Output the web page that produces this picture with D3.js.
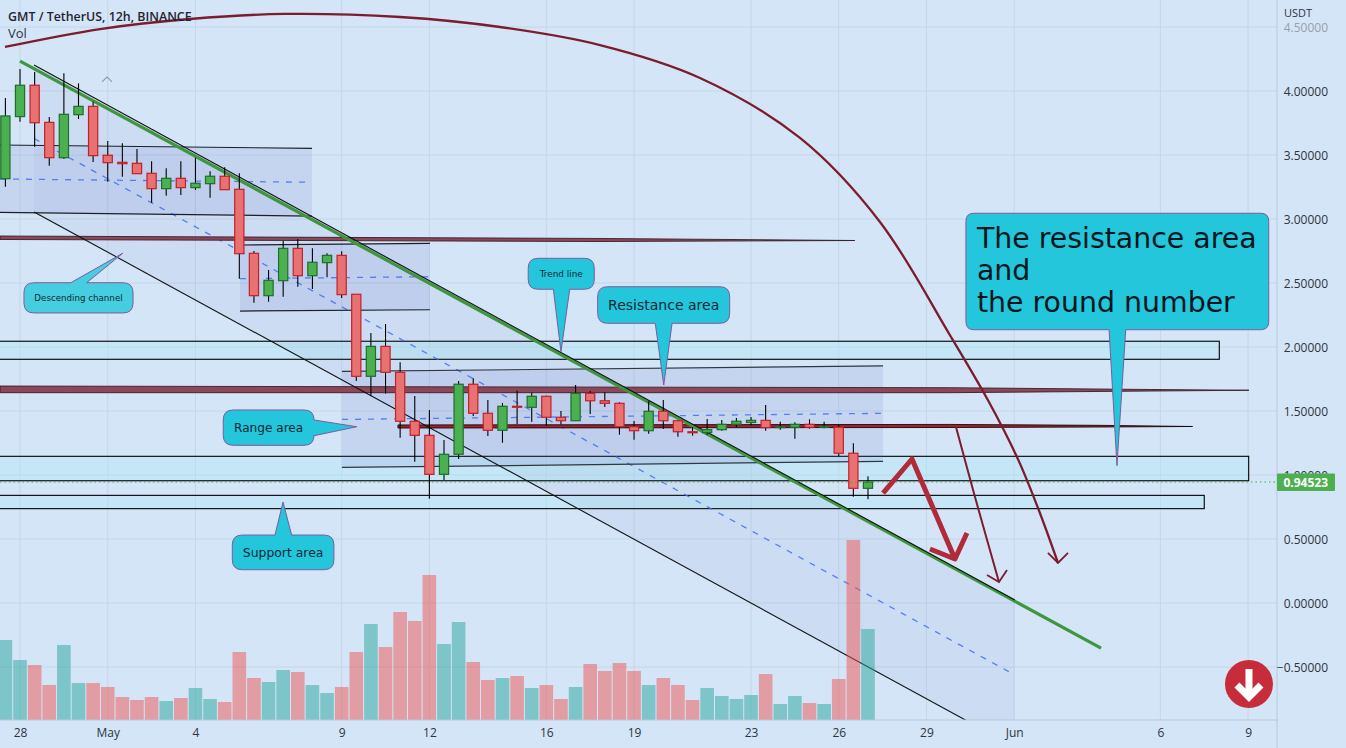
<!DOCTYPE html>
<html><head><meta charset="utf-8">
<style>html,body{margin:0;padding:0;background:#d4e5f7;overflow:hidden}svg{display:block}
text{font-family:"Open Sans",sans-serif}</style>
<script src="https://cdnjs.cloudflare.com/ajax/libs/d3/7.8.5/d3.min.js"></script></head><body>
<script>
// ---------- market data ----------
const open =[3.315,3.80,4.045,3.755,3.479,3.815,3.880,3.498,3.443,3.435,3.357,3.237,3.318,3.245,3.276,3.334,3.232,2.732,2.401,2.518,2.771,2.557,2.659,2.716,2.412,1.771,2.005,1.802,1.420,1.310,1.005,1.162,1.709,1.482,1.349,1.537,1.529,1.615,1.451,1.424,1.638,1.580,1.560,1.377,1.346,1.498,1.424,1.338,1.332,1.354,1.396,1.41,1.427,1.370,1.373,1.396,1.373,1.373,1.170,0.896];
const high =[3.945,4.172,4.148,3.797,4.138,4.060,3.916,3.609,3.591,3.547,3.451,3.396,3.451,3.479,3.373,3.404,3.357,2.750,2.602,2.828,2.844,2.771,2.732,2.748,2.412,2.109,2.180,1.880,1.617,1.508,1.273,1.734,1.755,1.586,1.563,1.659,1.643,1.620,1.500,1.703,1.656,1.646,1.568,1.422,1.576,1.586,1.430,1.375,1.4375,1.430,1.445,1.453,1.547,1.416,1.412,1.435,1.416,1.391,1.248,0.990];
const low  =[3.252,3.76,3.565,3.416,3.469,3.781,3.445,3.291,3.330,3.354,3.127,3.182,3.188,3.227,3.166,3.229,2.534,2.346,2.354,2.393,2.471,2.453,2.545,2.383,1.734,1.617,1.635,1.291,1.104,0.815,0.961,1.125,1.461,1.305,1.252,1.396,1.416,1.385,1.396,1.424,1.477,1.531,1.315,1.276,1.323,1.359,1.299,1.307,1.315,1.346,1.373,1.388,1.346,1.354,1.284,1.362,1.365,1.148,0.830,0.810];
const close=[3.805,4.045,3.752,3.479,3.818,3.880,3.495,3.440,3.432,3.354,3.237,3.318,3.245,3.279,3.334,3.229,2.729,2.401,2.521,2.771,2.557,2.662,2.716,2.409,1.771,2.005,1.802,1.420,1.310,1.005,1.162,1.709,1.482,1.349,1.537,1.529,1.615,1.451,1.424,1.638,1.580,1.560,1.377,1.346,1.498,1.424,1.338,1.330,1.354,1.396,1.420,1.427,1.370,1.376,1.396,1.373,1.379,1.170,0.896,0.94523];
const volume=[80,60,55,35,75,37,37,33,23,20,23,19,22,32,21,18,68,42,38,50,48,35,27,33,68,96,73,108,99,145,76,98,58,40,42,44,32,35,21,33,56,49,57,49,35,42,35,20,32,24,21,25,46,16,24,17,16,41,180,91];
const volumeUp=[1,1,0,0,1,1,0,0,0,0,0,1,0,1,1,0,0,0,1,1,0,1,1,0,0,1,0,0,0,0,1,1,0,0,1,0,1,0,0,1,0,0,0,0,1,0,0,0,1,1,1,1,0,1,1,0,1,0,0,1];
const lastPrice=0.94523;

// ---------- axes ----------
const priceTicks=[-0.5,0,0.5,1,1.5,2,2.5,3,3.5,4,4.5];
const timeTickBars=[1,7,13,23,29,37,43,51,57,63,69,79,85];
const timeTickLabels=["28","May","4","9","12","16","19","23","26","29","Jun","6","9"];

// ---------- drawings, all in [bar index, price] ----------
const bigChannelTop=[[1.96,4.203],[69.05,0.023]];
const bigChannelMid=[[1.96,3.629],[69.05,-0.5625]];
const bigChannelBot=[[1.96,3.055],[69.05,-1.125]];
const trendLine=[[1.0,4.234],[74.94,-0.352]];
const rangeATop=[[-0.37,3.578],[20.97,3.552]], rangeAMid=[[-0.37,3.3125],[20.97,3.287]], rangeABot=[[-0.37,3.052],[20.97,3.023]];
const rangeBTop=[[16.05,2.797],[29.04,2.810]], rangeBMid=[[16.05,2.534],[29.04,2.549]], rangeBBot=[[16.05,2.281],[29.04,2.291]];
const rangeCTop=[[23.02,1.809],[60.03,1.852]], rangeCMid=[[23.02,1.434],[60.03,1.482]], rangeCBot=[[23.02,1.059],[60.03,1.107]];
const zoneRight=[83.03,85.04,82.0];
const zoneTop=[2.045,1.146,0.841];
const zoneBottom=[1.904,0.955,0.737];
const band1=[[-0.37,2.867],[40.67,2.848],[58.1,2.832],[40.67,2.824],[-0.37,2.840]];
const band2=[[-0.37,1.695],[64.6,1.682],[78.3,1.668],[85.06,1.662],[78.3,1.656],[64.6,1.643],[-0.37,1.643]];
const band3=[[26.85,1.391],[64.6,1.395],[74.87,1.388],[81.2,1.379],[74.87,1.375],[64.6,1.371],[26.85,1.367]];
const bigArc=[[-0.03,4.344],[6.47,4.484],[12.63,4.5625],[19.12,4.602],[26.99,4.578],[33.83,4.5],[40.67,4.359],[47.51,4.102],[54.35,3.633],[59.82,2.977],[64.6,2.094],[67.2,1.586],[69.19,1.141],[70.63,0.742],[72.0,0.3125]];
const bigArcHead=[[71.31,0.391],[72.0,0.3125],[72.68,0.391]];
const midArc=[[65.02,1.375],[66.32,0.828],[67.96,0.164]];
const midArcHead=[[67.14,0.219],[67.96,0.164],[68.51,0.258]];
const boldArrow=[[60.03,0.859],[62.01,1.125],[64.95,0.344]];
const boldArrowHead=[[63.24,0.422],[64.95,0.344],[65.77,0.547]];
const chevronAt=[6.95,4.094];
const badgeAt=[85.06,-0.633];

// ---------- callouts ----------
const calloutText=[["Descending channel"],["Trend line"],["Resistance area"],["Range area"],["Support area"],["The resistance area","and","the round number"]];
const calloutLeft=[1.27,35.76,40.51,14.90,15.52,65.70];
const calloutRight=[8.73,40.28,49.54,21.11,22.47,86.41];
const calloutTop=[2.502,2.693,2.471,1.508,0.531,3.045];
const calloutBottom=[2.266,2.451,2.185,1.232,0.260,2.135];
const calloutTipBar=[8.02,38.00,45.03,24.03,18.99,76.03];
const calloutTipPrice=[2.732,1.963,1.703,1.377,0.789,1.073];
const calloutBaseA=[4.47,37.48,44.45,1.435,18.44,75.49];
const calloutBaseB=[5.56,38.60,45.60,1.307,19.58,76.63];
const calloutSide=["top","bottom","bottom","right","top","bottom"];
const calloutFont=[8.7,8.9,14,12.1,12.4,28.4];
const calloutFill=["#46cee0","#24c6dc","#24c6dc","#24c6dc","#24c6dc","#24c6dc"];

// ---------- scales ----------
const W=1346,H=748,paneR=1277,paneB=720;
const x=d3.scaleLinear().domain([0,85]).range([5.4,1248.1]);
const y=d3.scaleLinear().domain([0,4]).range([603,91]);
const vy=d3.scaleLinear().domain([0,180]).range([paneB,540]);
const P=p=>[x(p[0]),y(p[1])];
const poly=d3.line().x(d=>x(d[0])).y(d=>y(d[1]));
const smooth=d3.line().x(d=>x(d[0])).y(d=>y(d[1])).curve(d3.curveCatmullRom.alpha(0.5));

const svg=d3.select("body").append("svg").attr("width",W).attr("height",H);
svg.append("rect").attr("width",W).attr("height",H).attr("fill","#d4e5f7");
svg.append("defs").append("clipPath").attr("id","pane").append("rect").attr("width",paneR).attr("height",paneB);
const g=svg.append("g").attr("clip-path","url(#pane)");

// grid
g.selectAll(".gx").data(timeTickBars).join("line").attr("x1",d=>x(d)).attr("x2",d=>x(d)).attr("y1",0).attr("y2",paneB).attr("stroke","#c5d6e9");
g.selectAll(".gy").data(priceTicks).join("line").attr("x1",0).attr("x2",paneR).attr("y1",d=>y(d)).attr("y2",d=>y(d)).attr("stroke","#c5d6e9");

// S/R zones
zoneRight.forEach((r,i)=>{
  g.append("rect").attr("x",-5).attr("width",x(r)+5).attr("y",y(zoneTop[i])).attr("height",y(zoneBottom[i])-y(zoneTop[i]))
   .attr("fill","rgba(175,230,245,0.42)").attr("stroke","#000").attr("stroke-width",1.1);
});

// parallel channels
function channel(t,m,b,fill,lineCol,lw){
  g.append("path").attr("d",poly([t[0],t[1],b[1],b[0]])+"Z").attr("fill",fill);
  g.append("path").attr("d",poly(m)).attr("fill","none").attr("stroke","#3f70f5").attr("stroke-width",1.3).attr("stroke-dasharray","6 7").attr("opacity",.85);
  return ()=>{[t,b].forEach(s=>g.append("path").attr("d",poly(s)).attr("fill","none").attr("stroke",lineCol).attr("stroke-width",lw));};
}
const chFill="rgba(103,108,190,0.13)";
const dA=channel(rangeATop,rangeAMid,rangeABot,chFill,"#1c1f26",1.2);
const dB=channel(rangeBTop,rangeBMid,rangeBBot,chFill,"#1c1f26",1.2);
const dC=channel(rangeCTop,rangeCMid,rangeCBot,chFill,"#33363f",1.2);
const dBig=channel(bigChannelTop,bigChannelMid,bigChannelBot,"rgba(103,108,190,0.07)","#111",1.1);
dA();dB();dC();

// maroon bands
[band1,band2].forEach(b=>g.append("path").attr("d",poly(b)+"Z").attr("fill","#8f4659").attr("stroke","#35202a").attr("stroke-width",.9));
g.append("path").attr("d",poly(band3)+"Z").attr("fill","#a3202f").attr("stroke","#150a0c").attr("stroke-width",.9);

// trend line + channel edges
g.append("path").attr("d",poly(trendLine)).attr("fill","none").attr("stroke","#3f963f").attr("stroke-width",3.2);
dBig();

// volume
const barW=13.6;
g.selectAll(".v").data(volume).join("rect").attr("x",(d,i)=>x(i)-barW/2).attr("width",barW)
 .attr("y",d=>vy(d)).attr("height",d=>paneB-vy(d))
 .attr("fill",(d,i)=>volumeUp[i]?"rgba(38,166,154,0.5)":"rgba(239,83,80,0.5)");

// candles
const bw=9.2;
const idx=d3.range(open.length);
g.selectAll(".w").data(idx).join("line").attr("x1",i=>x(i)).attr("x2",i=>x(i)).attr("y1",i=>y(high[i])).attr("y2",i=>y(low[i])).attr("stroke","#000").attr("stroke-width",1.1);
g.selectAll(".b").data(idx).join("rect").attr("x",i=>x(i)-bw/2).attr("width",bw)
 .attr("y",i=>y(Math.max(open[i],close[i]))).attr("height",i=>Math.max(.4,Math.abs(y(open[i])-y(close[i]))))
 .attr("fill",i=>close[i]>=open[i]?"#4cb050":"#e87272")
 .attr("stroke",i=>close[i]>=open[i]?"#1e6e2c":"#c4202a").attr("stroke-width",1.2);

// last price
g.append("line").attr("x1",0).attr("x2",paneR).attr("y1",y(lastPrice)).attr("y2",y(lastPrice)).attr("stroke","#3cae3c").attr("stroke-width",1).attr("stroke-dasharray","1.5 3");

// arcs and arrows
const maroon="#7c1c2e";
g.append("path").attr("d",smooth(bigArc)).attr("fill","none").attr("stroke",maroon).attr("stroke-width",2.3);
g.append("path").attr("d",poly(bigArcHead)).attr("fill","none").attr("stroke",maroon).attr("stroke-width",1.8);
g.append("path").attr("d",smooth(midArc)).attr("fill","none").attr("stroke",maroon).attr("stroke-width",2);
g.append("path").attr("d",poly(midArcHead)).attr("fill","none").attr("stroke",maroon).attr("stroke-width",1.8);
g.append("path").attr("d",poly(boldArrow)).attr("fill","none").attr("stroke","#b12a39").attr("stroke-width",5).attr("stroke-linejoin","round");
g.append("path").attr("d",poly(boldArrowHead)).attr("fill","none").attr("stroke","#b12a39").attr("stroke-width",5).attr("stroke-linejoin","round");

// chevron marker
const [cx,cy]=P(chevronAt);
g.append("path").attr("d",d3.line()([[cx-5,cy+3],[cx,cy-2],[cx+5,cy+3]])).attr("fill","none").attr("stroke","#7f9a9f").attr("stroke-width",1.1);

// callouts
calloutText.forEach((lines,i)=>{
  const l=x(calloutLeft[i]),r=x(calloutRight[i]),t=y(calloutTop[i]),b=y(calloutBottom[i]),R=i==5?8:10;
  const tx=x(calloutTipBar[i]),ty=y(calloutTipPrice[i]);
  const s=calloutSide[i];
  const p=d3.path();
  p.moveTo(l+R,t);
  if(s=="top"){p.lineTo(x(calloutBaseA[i]),t);p.lineTo(tx,ty);p.lineTo(x(calloutBaseB[i]),t);}
  p.lineTo(r-R,t);p.quadraticCurveTo(r,t,r,t+R);
  if(s=="right"){p.lineTo(r,y(calloutBaseA[i])>t+R?y(calloutBaseA[i]):t+R);p.lineTo(tx,ty);p.lineTo(r,y(calloutBaseB[i]));}
  p.lineTo(r,b-R);p.quadraticCurveTo(r,b,r-R,b);
  if(s=="bottom"){p.lineTo(x(calloutBaseB[i]),b);p.lineTo(tx,ty);p.lineTo(x(calloutBaseA[i]),b);}
  p.lineTo(l+R,b);p.quadraticCurveTo(l,b,l,b-R);p.lineTo(l,t+R);p.quadraticCurveTo(l,t,l+R,t);p.closePath();
  g.append("path").attr("d",p.toString()).attr("fill",calloutFill[i]).attr("stroke","#7f5b9c").attr("stroke-width",1);
  const fs=calloutFont[i];
  if(lines.length==1){
    g.append("text").attr("x",(l+r)/2).attr("y",(t+b)/2+fs*.36).attr("text-anchor","middle")
     .style("font-family","'DejaVu Sans',sans-serif").style("font-size",fs+"px").attr("fill","#0c2a33").text(lines[0]);
  }else{
    lines.forEach((tl,k)=>g.append("text").attr("x",l+11).attr("y",t+35+k*32).style("font-family","'DejaVu Sans',sans-serif").style("font-size",fs+"px").attr("fill","#02161c").text(tl));
  }
});

// badge
const [bx,by]=P(badgeAt);
g.append("circle").attr("cx",bx).attr("cy",by).attr("r",24).attr("fill","#c62c3a");
g.append("path").attr("d",d3.line()([[bx,by+14],[bx,by-15]])).attr("stroke","#fff").attr("stroke-width",7);
g.append("path").attr("d",d3.line()([[bx-12,by+1],[bx,by+13],[bx+12,by+1]])).attr("fill","none").attr("stroke","#fff").attr("stroke-width",7);

// axes
const ax=svg.append("g").attr("transform",`translate(0,${paneB})`).call(d3.axisBottom(x).tickValues(timeTickBars).tickSize(0).tickPadding(8).tickFormat((d,i)=>timeTickLabels[i]));
ax.select(".domain").attr("stroke","#b7c8db").attr("d",`M0,0H${paneR}`);
ax.selectAll("text").style("font-family","'Open Sans',sans-serif").style("font-size","12px").attr("fill","#30333d");
const ay=svg.append("g").attr("transform",`translate(${paneR},1)`).call(d3.axisRight(y).tickValues(priceTicks).tickSize(0).tickPadding(9).tickFormat(d=>d3.format(".5f")(d).replace("-","\u2212")));
ay.select(".domain").attr("stroke","#b7c8db").attr("d",`M0,-1V${paneB}`);
ay.selectAll("text").style("font-family","'Open Sans',sans-serif").style("font-size","12px").attr("fill",d=>d==4.5?"#9aa0ab":"#30333d").attr("text-anchor","end").attr("x",51);
svg.append("line").attr("x1",paneR).attr("x2",paneR).attr("y1",paneB).attr("y2",H).attr("stroke","#b7c8db");

svg.append("text").attr("x",1284).attr("y",17).style("font-size","11px").attr("fill","#30333d").text("USDT");

// last price tag
svg.append("rect").attr("x",paneR).attr("y",y(lastPrice)-8.5).attr("width",58).attr("height",17.5).attr("fill","#4caf50").attr("rx",1);
svg.append("text").attr("x",1328).attr("y",y(lastPrice)+4.5).attr("text-anchor","end").style("font-size","12px").style("font-weight",700).attr("fill","#fff").text(d3.format(".5f")(lastPrice));

// header
svg.append("text").attr("x",8).attr("y",21).style("font-size","12.4px").style("font-weight",600).attr("fill","#1f2430").text("GMT / TetherUS, 12h, BINANCE");
svg.append("text").attr("x",8).attr("y",38).style("font-size","13px").attr("fill","#2f333e").text("Vol");
</script></body></html>
